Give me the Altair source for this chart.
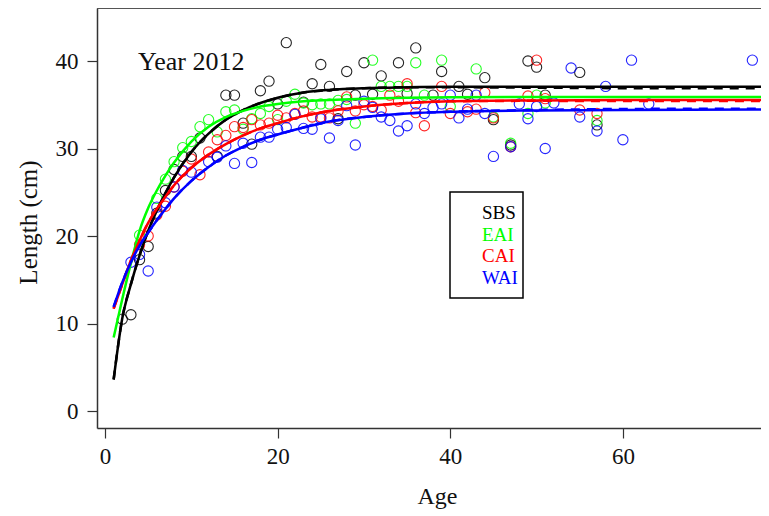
import altair as alt
import pandas as pd

groups = ["SBS", "EAI", "CAI", "WAI"]
colors = ["#000000", "#00ff00", "#ff0000", "#0000ff"]

# observed points (age, length)
sbs_age = [2,3,4,5,6,7,8,9,10,11,13,14,15,16,17,18,19,20,21,23,24,25,26,27,28,29,30,31,32,34,35,36,38,39,41,42,44,45,47,49,50,51,55,57]
sbs_len = [10.5,11.0,17.3,18.8,22.6,25.2,27.6,29.1,29.1,31.2,29.1,36.1,36.1,32.9,30.5,36.6,37.7,35.1,42.1,35.3,37.4,39.6,37.1,33.4,38.8,36.1,39.8,36.2,38.3,39.8,36.3,41.5,36.1,38.8,37.1,36.2,38.1,33.3,30.4,40.0,39.3,36.1,38.7,32.7]

eai_age = [4,6,7,8,9,10,11,12,13,14,15,16,17,18,19,20,21,22,23,24,25,26,27,28,29,31,32,33,34,35,36,37,39,40,43,45,47,49,50,51,57]
eai_len = [20.1,24.3,26.5,28.5,30.1,30.8,32.5,33.3,31.9,34.2,34.4,32.2,33.4,34.0,34.8,33.3,35.4,36.2,35.2,35.0,35.1,35.1,35.5,35.6,32.9,40.1,37.1,37.1,37.1,37.1,39.8,36.1,40.1,34.8,39.1,33.6,30.6,34.0,36.1,35.2,33.2]

cai_age = [4,5,6,7,8,9,10,11,12,13,14,15,16,17,18,19,20,21,22,23,24,25,26,27,28,29,30,31,32,33,34,35,36,37,39,40,42,43,44,45,47,49,50,51,55,57]
cai_len = [19.0,20.0,22.4,23.4,25.6,27.4,28.8,27.0,29.6,31.0,31.5,32.5,32.4,33.3,32.7,32.9,33.8,33.5,34.0,34.3,33.6,33.6,33.5,34.3,35.9,34.3,35.0,34.8,34.4,36.1,35.4,37.4,34.1,32.6,37.1,34.0,34.2,34.5,36.4,33.5,30.2,36.0,40.1,35.7,34.4,34.0]

wai_age = [3,4,5,6,7,8,9,10,12,13,14,15,16,17,18,19,20,21,22,23,24,25,26,27,28,29,30,31,32,33,34,35,36,37,38,39,40,41,42,43,44,45,47,48,49,50,51,52,54,55,57,58,60,61,63,75]
wai_len = [17.0,17.9,16.0,23.3,23.8,25.6,27.5,27.3,28.5,29.0,30.3,28.3,30.6,28.4,31.3,31.3,32.2,32.4,33.9,32.3,32.2,33.4,31.2,33.2,34.9,30.4,35.4,34.7,33.6,33.2,32.0,32.6,35.1,34.0,34.7,35.1,36.1,33.5,34.5,36.1,34.0,29.1,30.2,35.1,33.4,34.8,30.0,35.2,39.2,33.6,32.0,37.1,31.0,40.1,35.1,40.1]

# fitted growth curves
fit_age = [1,2,3,4,5,6,7,8,10,12,14,16,18,20,23,26,30,35,40,50,60,76]
sbs_fit = [3.6,10.6,14.5,17.8,20.6,22.9,24.9,26.7,29.6,31.7,33.3,34.4,35.2,35.8,36.4,36.7,36.9,37.0,37.05,37.05,37.05,37.05]
eai_fit = [8.4,12.8,16.9,20.6,23.2,25.2,26.9,28.4,30.8,32.5,33.6,34.3,34.8,35.1,35.4,35.55,35.7,35.8,35.85,35.9,35.9,35.9]
cai_fit = [11.7,14.5,17.2,19.5,21.5,23.1,24.5,25.8,27.8,29.3,30.5,31.5,32.3,32.9,33.7,34.3,34.8,35.2,35.4,35.5,35.55,35.55]
wai_fit = [11.9,14.7,17.0,18.9,20.4,21.8,23.1,24.3,26.3,27.9,29.2,30.2,31.0,31.6,32.4,33.1,33.6,34.0,34.2,34.35,34.4,34.45]
# second (dashed) fits, nearly coincident
sbs_fit2 = [3.6,10.6,14.5,17.8,20.6,22.9,24.9,26.7,29.6,31.7,33.3,34.4,35.2,35.8,36.4,36.7,36.9,37.0,37.0,36.95,36.9,36.9]
cai_fit2 = [11.7,14.5,17.2,19.5,21.5,23.1,24.5,25.8,27.8,29.3,30.5,31.5,32.3,32.9,33.7,34.3,34.8,35.2,35.4,35.45,35.42,35.43]
wai_fit2 = [11.9,14.7,17.0,18.9,20.4,21.8,23.1,24.3,26.3,27.9,29.2,30.2,31.0,31.6,32.4,33.1,33.6,34.0,34.2,34.4,34.52,34.56]

x_ticks = [0, 20, 40, 60]
y_ticks = [0, 10, 20, 30, 40]
x_domain = [-0.93, 76.0]
y_domain = [-1.94, 46.06]

FONT = "Liberation Serif"
W, H = 664, 420

pts = pd.concat([
    pd.DataFrame({"age": a, "len": l, "grp": g})
    for a, l, g in [(sbs_age, sbs_len, "SBS"), (eai_age, eai_len, "EAI"),
                    (cai_age, cai_len, "CAI"), (wai_age, wai_len, "WAI")]
])
fits = pd.concat([
    pd.DataFrame({"age": fit_age, "len": f, "grp": g})
    for f, g in [(sbs_fit, "SBS"), (eai_fit, "EAI"), (cai_fit, "CAI"), (wai_fit, "WAI")]
])
fits2 = pd.concat([
    pd.DataFrame({"age": fit_age, "len": f, "grp": g})
    for f, g in [(sbs_fit2, "SBS"), (cai_fit2, "CAI"), (wai_fit2, "WAI")]
])
one = pd.DataFrame({"k": [0]})

color = alt.Color("grp:N", scale=alt.Scale(domain=groups, range=colors), legend=None)

xenc = alt.X("age:Q", scale=alt.Scale(domain=x_domain, nice=False, zero=False),
             axis=alt.Axis(values=x_ticks, title="Age", grid=False, tickSize=10,
                           labelFont=FONT, labelFontSize=23, labelPadding=7,
                           titleFont=FONT, titleFontSize=24, titleFontWeight="normal",
                           titleX=340, titleY=75, titleBaseline="alphabetic",
                           domainColor="#333", domainWidth=1.5, tickColor="#333",
                           tickWidth=1.2, labelColor="#111", titleColor="#111"))
yenc = alt.Y("len:Q", scale=alt.Scale(domain=y_domain, nice=False, zero=False),
             axis=alt.Axis(values=y_ticks, title="Length (cm)", grid=False, tickSize=10,
                           labelFont=FONT, labelFontSize=23, labelPadding=9,
                           titleFont=FONT, titleFontSize=25, titleFontWeight="normal",
                           titleX=-69, titleY=214, titleBaseline="middle", titleAngle=-90,
                           domainColor="#333", domainWidth=1.5, tickColor="#333",
                           tickWidth=1.2, labelColor="#111", titleColor="#111"))

points = alt.Chart(pts).mark_point(shape="circle", filled=False, size=105,
                                   strokeWidth=1.1, opacity=0.85).encode(
    x=xenc, y=yenc, color=color)

dashed = alt.Chart(fits2).mark_line(strokeWidth=2.5, strokeDash=[9, 7],
                                    interpolate="monotone", clip=True).encode(
    x="age:Q", y="len:Q", color=color, detail="grp:N")

solid = alt.Chart(fits).mark_line(strokeWidth=2.5, interpolate="monotone", clip=True).encode(
    x="age:Q", y="len:Q", color=color, detail="grp:N")

top_border = alt.Chart(one).mark_rule(color="#555", strokeWidth=2).encode(
    x=alt.value(0), x2=alt.value(W), y=alt.value(0))

legend_box = alt.Chart(one).mark_rect(fill="white", stroke="black", strokeWidth=1.5).encode(
    x=alt.value(353), x2=alt.value(426), y=alt.value(184), y2=alt.value(290))

layers = [points, dashed, solid, top_border, legend_box]
for i, (g, c) in enumerate(zip(groups, colors)):
    layers.append(
        alt.Chart(one).mark_text(text=g, align="left", baseline="alphabetic",
                                 font=FONT, fontSize=19, color=c).encode(
            x=alt.value(385), y=alt.value(211 + 21.5 * i)))

layers.append(
    alt.Chart(one).mark_text(text="Year 2012", align="left", baseline="alphabetic",
                             font=FONT, fontSize=26, color="#111").encode(
        x=alt.value(41), y=alt.value(62)))

chart = alt.layer(*layers).properties(
    width=W, height=H, autosize="none",
    padding={"left": 89, "top": 0, "right": 0, "bottom": 84},
).configure_view(stroke=None).configure(background="white")

chart.save("out.html", embed_options={"renderer": "svg", "actions": False})
